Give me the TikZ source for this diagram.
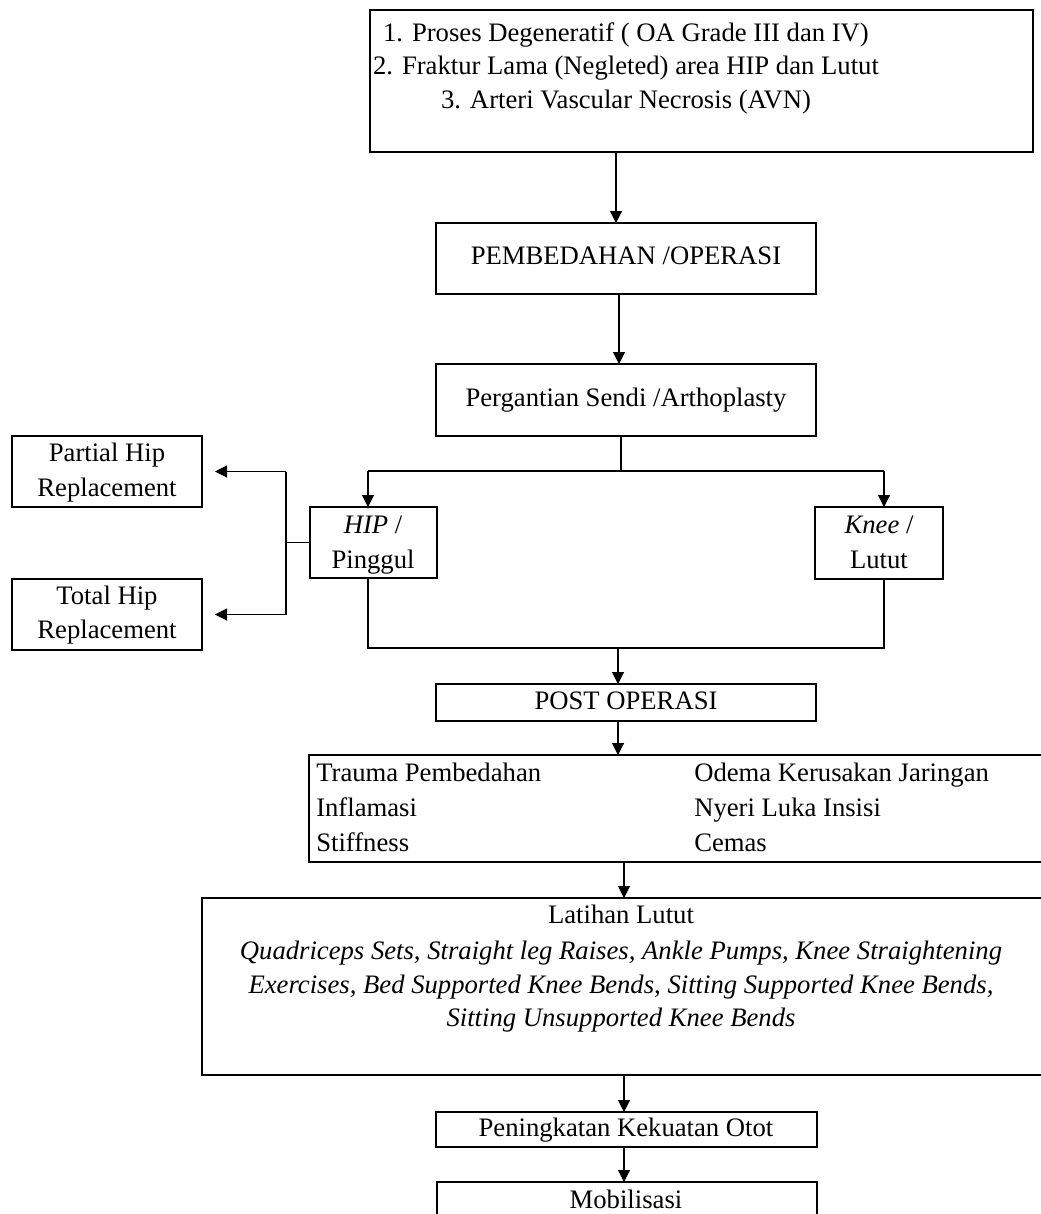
\documentclass[tikz,border=0pt]{standalone}
\usepackage{fontspec}
\setmainfont{Liberation Serif}
\usetikzlibrary{arrows.meta,fit}
\begin{document}
\begin{tikzpicture}[x=0.75pt,y=-0.75pt,
  box/.style={draw, line width=1.6pt, inner sep=0pt, outer sep=0pt},
  conn/.style={line width=0.8pt},
  arr/.style={conn, -{Triangle[width=9pt,length=9pt]}},
  txt/.style={inner sep=0pt, text height=14pt, text depth=4pt, font=\fontsize{20}{25}\selectfont},
  ]
\useasboundingbox (0,0) rectangle (1041,1214);
\clip (0,0) rectangle (1041,1214);
\fill[white] (0,0) rectangle (1041,1214);

% boxes
\node[box, fit={(370,10) (1033,152)}] (top) {};
\node[box, fit={(436,223) (816,294)}] (pem) {};
\node[box, fit={(436,364) (816,436)}] (perg) {};
\node[box, fit={(12,436) (202,507)}] (partial) {};
\node[box, fit={(12,579) (202,650)}] (total) {};
\node[box, fit={(310,507) (437,578)}] (hip) {};
\node[box, fit={(815,507) (943,579)}] (knee) {};
\node[box, fit={(436,684) (816,721)}] (post) {};
\node[box, fit={(309,755) (1050,862)}] (symp) {};
\node[box, fit={(202,898) (1050,1075)}] (lat) {};
\node[box, fit={(436,1112) (817,1147)}] (pen) {};
\node[box, fit={(437,1182) (817,1240)}] (mob) {};

% texts
\node[txt] (t1) at (626,35) {1. Proses Degeneratif ( OA Grade III dan IV)};
\node[txt] (t2) at (626,68) {2. Fraktur Lama (Negleted) area HIP dan Lutut};
\node[txt] (t3) at (626,102) {3. Arteri Vascular Necrosis (AVN)};
\node[txt] (tpem) at (626,258) {PEMBEDAHAN /OPERASI};
\node[txt] (tperg) at (626,400) {Pergantian Sendi /Arthoplasty};
\node[txt] (tpa1) at (107,455) {Partial Hip};
\node[txt] (tpa2) at (107,490) {Replacement};
\node[txt] (tto1) at (107,598) {Total Hip};
\node[txt] (tto2) at (107,632) {Replacement};
\node[txt] (th1) at (373,527) {\textit{HIP} /};
\node[txt] (th2) at (373,562) {Pinggul};
\node[txt] (tk1) at (879,527) {\textit{Knee} /};
\node[txt] (tk2) at (879,562) {Lutut};
\node[txt] (tpost) at (626,703) {POST OPERASI};
\node[txt, anchor=west] (s1) at (316,775) {Trauma Pembedahan};
\node[txt, anchor=west] (s2) at (316,810) {Inflamasi};
\node[txt, anchor=west] (s3) at (316,845) {Stiffness};
\node[txt, anchor=west] (s4) at (694,775) {Odema Kerusakan Jaringan};
\node[txt, anchor=west] (s5) at (694,810) {Nyeri Luka Insisi};
\node[txt, anchor=west] (s6) at (694,845) {Cemas};
\node[txt] (l0) at (621,917) {Latihan Lutut};
\node[txt] (l1) at (621,953) {\textit{Quadriceps Sets, Straight leg Raises, Ankle Pumps, Knee Straightening}};
\node[txt] (l2) at (621,987) {\textit{Exercises, Bed Supported Knee Bends, Sitting Supported Knee Bends,}};
\node[txt] (l3) at (621,1020) {\textit{Sitting Unsupported Knee Bends}};
\node[txt] (tpen) at (626,1130) {Peningkatan Kekuatan Otot};
\node[txt] (tmob) at (626,1202) {Mobilisasi};

% connector columns
\coordinate (c1) at (616,0);
\coordinate (c2) at (619,0);
\coordinate (b1) at (621,471);
\coordinate (hx) at (368,0);
\coordinate (kx) at (884,0);
\coordinate (lx) at (286,0);
\coordinate (j) at (618,648);
\coordinate (c3) at (618,0);
\coordinate (c4) at (624,0);

\draw[arr] (top.south -| c1) -- (pem.north -| c1);
\draw[arr] (pem.south -| c2) -- (perg.north -| c2);
\draw[conn] (perg.south -| b1) -- (b1);
\draw[conn] (hx |- b1) -- (kx |- b1);
\draw[arr] (hx |- b1) -- (hip.north -| hx);
\draw[arr] (kx |- b1) -- (knee.north -| kx);
\draw[conn] (hip.west) -- (hip.west -| lx);
\draw[conn] (lx |- partial.east) -- (lx |- total.east);
\draw[arr, shorten >=9.75pt] (lx |- partial.east) -- (partial.east);
\draw[arr, shorten >=9.75pt] (lx |- total.east) -- (total.east);
\draw[conn] (hip.south -| hx) -- (hx |- j) -- (kx |- j) -- (knee.south -| kx);
\draw[arr] (j) -- (post.north -| j);
\draw[arr] (post.south -| c3) -- (symp.north -| c3);
\draw[arr] (symp.south -| c4) -- (lat.north -| c4);
\draw[arr] (lat.south -| c4) -- (pen.north -| c4);
\draw[arr] (pen.south -| c4) -- (mob.north -| c4);
\end{tikzpicture}
\end{document}
